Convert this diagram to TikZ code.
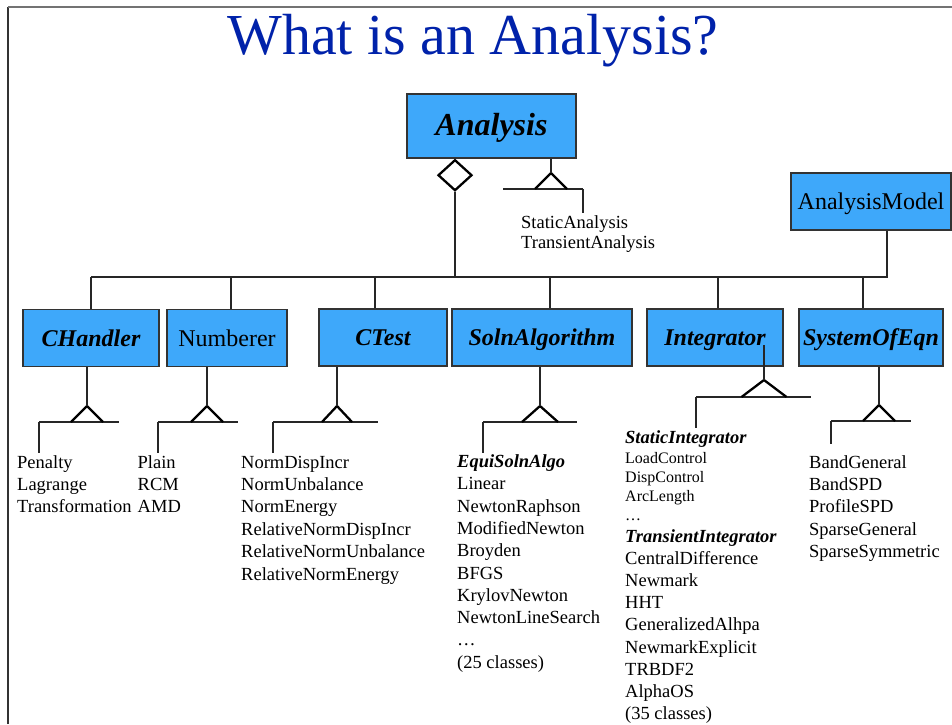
\documentclass[tikz,border=0pt]{standalone}
\usepackage{fontspec}
\setmainfont{Liberation Serif}
\usetikzlibrary{shapes.geometric}
\definecolor{boxblue}{RGB}{62,168,250}
\definecolor{titleblue}{RGB}{0,34,170}
\newcommand\gensym[8]{%
  \coordinate (#1-apex) at (#2,#3-#5);
  \coordinate (#1-l) at (#6,#3);
  \coordinate (#1-r) at (#7,#3);
  \coordinate (#1-d) at (#6,#8);
  \draw[conn] (#1-l) -- (#1-r);
  \draw[conn] (#1-l) -- (#1-d);
  \draw[tri] (#2-#4,#3) -- (#1-apex) -- (#2+#4,#3);
}
\begin{document}
\begin{tikzpicture}[x=1pt,y=-1pt,
  cls/.style={draw=black!80, line width=1.1pt, fill=boxblue, inner sep=0pt,
    minimum height=57, text height=17, text depth=1, font=\fontsize{24}{28}\selectfont},
  clsbi/.style={cls, font=\fontsize{24}{28}\selectfont\bfseries\itshape},
  conn/.style={draw=black!85, line width=1.1pt},
  tri/.style={draw=black, line width=2.3pt, line join=miter},
  lbl/.style={anchor=base west, inner sep=0pt, font=\fontsize{18.5}{22}\selectfont},
  sml/.style={anchor=base west, inner sep=0pt, font=\fontsize{16}{19}\selectfont},
  bi/.style={font=\fontsize{18.5}{22}\selectfont\bfseries\itshape}]
\useasboundingbox (0,0) rectangle (952,724);
\fill[white] (0,0) rectangle (952,724);
% frame
\coordinate (fr-bl) at (8,724);
\coordinate (fr-tl) at (8,7);
\coordinate (fr-tr) at (952,7);
\draw[black!80, line width=1.4pt] (fr-bl) -- (fr-tl);
\draw[black!55, line width=1.4pt] (fr-tl) -- (fr-tr);
% title
\node[anchor=base, inner sep=0pt, text=titleblue, font=\fontsize{58}{64}\selectfont] (title) at (473,54) {What is an Analysis?};
% boxes
\node[cls, minimum width=169, minimum height=64, text height=20, text depth=2, font=\fontsize{32}{36}\selectfont\bfseries\itshape] (an) at (491.5,126) {Analysis};
\node[cls, minimum width=160] (am) at (871,201.5) {AnalysisModel};
\node[clsbi, minimum width=136] (ch) at (91,338) {CHandler};
\node[cls, minimum width=120] (num) at (227,338) {Numberer};
\node[clsbi, minimum width=128] (ct) at (383,337.5) {CTest};
\node[clsbi, minimum width=180] (sa) at (542,337.5) {SolnAlgorithm};
\node[clsbi, minimum width=136] (int) at (715,337.5) {Integrator};
\node[clsbi, minimum width=144] (soe) at (871,337.5) {SystemOfEqn};
% aggregation diamond and bus
\node[diamond, draw=black, line width=2.3pt, fill=white, inner sep=0pt, minimum width=34, minimum height=31, anchor=north] (dia) at ([xshift=-36.5]an.south) {};
\coordinate (busL) at (91,277);
\coordinate (busR) at (887,277);
\draw[conn] (dia.south) -- (dia.south |- busL);
\draw[conn] (busL) -- (busR) -- (busR |- am.south);
\draw[conn] (ch.north) -- (ch.north |- busL);
\draw[conn] ([xshift=4]num.north) -- ([xshift=4]num.north |- busL);
\draw[conn] ([xshift=-8]ct.north) -- ([xshift=-8]ct.north |- busL);
\draw[conn] ([xshift=8]sa.north) -- ([xshift=8]sa.north |- busL);
\draw[conn] ([xshift=3]int.north) -- ([xshift=3]int.north |- busL);
\draw[conn] ([xshift=-8]soe.north) -- ([xshift=-8]soe.north |- busL);
% generalizations
\gensym{ga}{551}{189}{16}{16}{583}{503}{213}
\draw[conn] (ga-apex |- an.south) -- (ga-apex);
\gensym{gch}{87}{422}{16}{16}{39}{119}{453}
\draw[conn] (gch-apex |- ch.south) -- (gch-apex);
\gensym{gnum}{207}{422}{16}{16}{158}{238}{453}
\draw[conn] (gnum-apex |- num.south) -- (gnum-apex);
\gensym{gct}{337}{422}{15}{16}{273}{378}{453}
\draw[conn] (gct-apex |- ct.south) -- (gct-apex);
\gensym{gsa}{540}{422}{18}{16}{483}{577}{453}
\draw[conn] (gsa-apex |- sa.south) -- (gsa-apex);
\gensym{gint}{764}{397}{22.5}{17}{696}{811}{428}
\coordinate (gint-top) at (764,345);
\draw[conn] (gint-top) -- (gint-apex);
\gensym{gsoe}{879}{421}{16}{16}{831}{911}{444}
\draw[conn] (gsoe-apex |- soe.south) -- (gsoe-apex);
% texts
\node[lbl] (sta) at (521,228) {StaticAnalysis};
\node[lbl] (tra) at (521,248.5) {TransientAnalysis};
\foreach \t [count=\i from 0] in {Penalty,Lagrange,Transformation}
  \node[lbl] (chl-\i) at (17,468+22.4*\i) {\t};
\foreach \t [count=\i from 0] in {Plain,RCM,AMD}
  \node[lbl] (numl-\i) at (137.5,468+22.4*\i) {\t};
\foreach \t [count=\i from 0] in {NormDispIncr,NormUnbalance,NormEnergy,RelativeNormDispIncr,RelativeNormUnbalance,RelativeNormEnergy}
  \node[lbl] (ctl-\i) at (241,468+22.4*\i) {\t};
\node[lbl, bi] (sal-0) at (457,467.5) {EquiSolnAlgo};
\foreach \t [count=\i from 1] in {Linear,NewtonRaphson,ModifiedNewton,Broyden,BFGS,KrylovNewton,NewtonLineSearch,…,{(25 classes)}}
  \node[lbl] (sal-\i) at (457,467.5+22.3*\i) {\t};
\node[lbl, bi] (intl-0) at (625,443) {StaticIntegrator};
\foreach \t [count=\i from 0] in {LoadControl,DispControl,ArcLength,…}
  \node[sml] (ints-\i) at (625,463+19*\i) {\t};
\node[lbl, bi] (intl-1) at (625,542) {TransientIntegrator};
\foreach \t [count=\i from 1] in {CentralDifference,Newmark,HHT,GeneralizedAlhpa,NewmarkExplicit,TRBDF2,AlphaOS,{(35 classes)}}
  \node[lbl] (intt-\i) at (625,542+22.2*\i) {\t};
\foreach \t [count=\i from 0] in {BandGeneral,BandSPD,ProfileSPD,SparseGeneral,SparseSymmetric}
  \node[lbl] (soel-\i) at (809,468+22.4*\i) {\t};
\end{tikzpicture}
\end{document}
